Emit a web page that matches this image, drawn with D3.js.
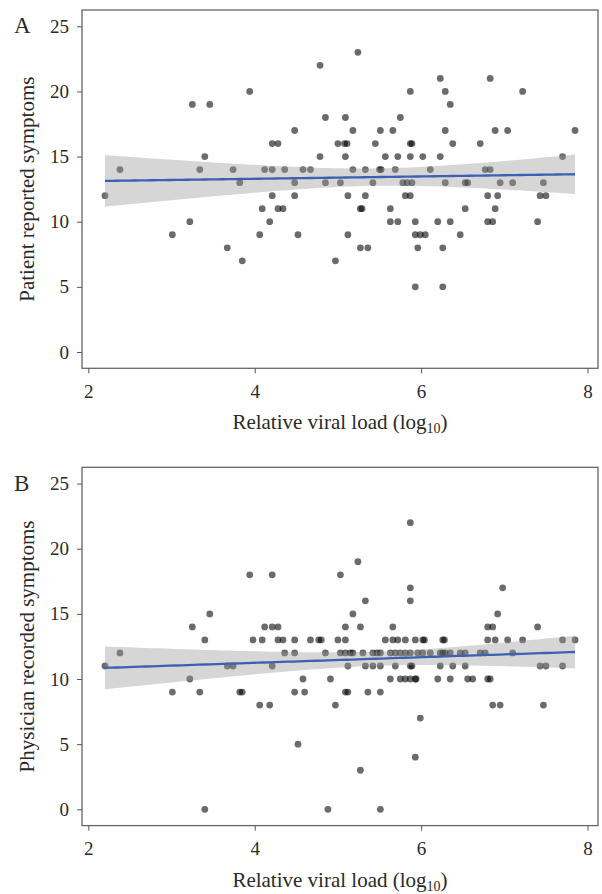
<!DOCTYPE html>
<html>
<head>
<meta charset="utf-8">
<script src="https://cdn.jsdelivr.net/npm/d3@7"></script>
<style>
body { margin: 0; background: #fff; }
svg text { font-family: "Liberation Serif", "DejaVu Serif", serif; fill: #2a2a2a; }
</style>
</head>
<body>
<div id="chart"></div>
<script>
// axis ticks
var xTicks = [2, 4, 6, 8];
var yTicks = [0, 5, 10, 15, 20, 25];

// panel A: [relative viral load, patient reported symptoms]
var patientPoints = [
  [5.24, 23],
  [4.785, 22],
  [6.23, 21], [6.83, 21],
  [3.94, 20], [5.87, 20], [6.29, 20], [7.22, 20],
  [3.25, 19], [3.46, 19], [6.35, 19],
  [4.85, 18], [5.09, 18], [5.75, 18],
  [4.48, 17], [5.18, 17], [5.51, 17], [5.66, 17], [6.29, 17], [6.89, 17], [7.04, 17], [7.85, 17],
  [4.21, 16], [4.28, 16], [5.00, 16], [5.08, 16], [5.11, 16], [5.45, 16], [5.87, 16], [5.89, 16], [6.38, 16], [6.71, 16],
  [3.40, 15], [4.785, 15], [5.09, 15], [5.57, 15], [5.72, 15], [5.87, 15], [6.02, 15], [6.23, 15], [7.70, 15],
  [2.38, 14], [3.34, 14], [3.74, 14], [4.12, 14], [4.21, 14], [4.36, 14], [4.58, 14], [4.67, 14], [5.18, 14],
  [5.33, 14], [5.50, 14], [5.52, 14], [5.69, 14], [6.11, 14], [6.77, 14], [6.83, 14],
  [3.82, 13], [4.48, 13], [4.85, 13], [5.03, 13], [5.42, 13], [5.78, 13], [5.83, 13], [5.89, 13], [6.29, 13],
  [6.53, 13], [6.56, 13], [6.95, 13], [7.10, 13], [7.47, 13],
  [2.20, 12], [4.21, 12], [4.48, 12], [5.12, 12], [5.33, 12], [5.81, 12], [5.87, 12], [6.80, 12], [6.92, 12], [7.43, 12], [7.50, 12],
  [4.09, 11], [4.28, 11], [4.34, 11], [5.27, 11], [5.29, 11], [5.63, 11], [6.53, 11], [6.89, 11],
  [3.22, 10], [4.18, 10], [5.63, 10], [5.72, 10], [5.93, 10], [6.20, 10], [6.35, 10], [6.80, 10], [6.86, 10], [7.40, 10],
  [3.01, 9], [4.06, 9], [4.52, 9], [5.12, 9], [5.93, 9], [5.99, 9], [6.05, 9], [6.47, 9],
  [3.67, 8], [5.27, 8], [5.36, 8], [5.96, 8], [6.26, 8],
  [3.85, 7], [4.97, 7],
  [5.93, 5], [6.26, 5]
];

// panel B: [relative viral load, physician recorded symptoms]
var physicianPoints = [
  [5.87, 22],
  [5.24, 19],
  [3.94, 18], [4.21, 18], [5.03, 18],
  [5.87, 17], [6.98, 17],
  [5.33, 16], [5.87, 16],
  [3.46, 15], [5.18, 15], [6.92, 15],
  [3.25, 14], [4.12, 14], [4.21, 14], [4.28, 14], [5.09, 14], [5.27, 14], [5.66, 14], [6.80, 14], [6.86, 14], [7.40, 14],
  [3.40, 13], [3.98, 13], [4.09, 13], [4.28, 13], [4.34, 13], [4.48, 13], [4.67, 13], [4.77, 13], [4.80, 13],
  [5.00, 13], [5.09, 13], [5.57, 13], [5.66, 13], [5.72, 13], [5.81, 13], [5.93, 13], [6.02, 13], [6.04, 13],
  [6.26, 13], [6.28, 13], [6.80, 13], [6.89, 13], [7.04, 13], [7.22, 13], [7.70, 13], [7.85, 13],
  [2.38, 12], [4.36, 12], [4.48, 12], [4.85, 12], [5.03, 12], [5.09, 12], [5.15, 12], [5.18, 12], [5.30, 12],
  [5.42, 12], [5.47, 12], [5.51, 12], [5.63, 12], [5.69, 12], [5.75, 12], [5.81, 12], [5.87, 12], [5.96, 12],
  [6.02, 12], [6.11, 12], [6.23, 12], [6.26, 12], [6.29, 12], [6.35, 12], [6.47, 12], [6.53, 12], [6.71, 12],
  [6.77, 12], [7.10, 12],
  [2.20, 11], [3.67, 11], [3.74, 11], [4.21, 11], [5.12, 11], [5.33, 11], [5.42, 11], [5.51, 11], [5.69, 11],
  [5.87, 11], [5.89, 11], [6.23, 11], [6.38, 11], [6.53, 11], [7.43, 11], [7.50, 11], [7.70, 11],
  [3.22, 10], [4.58, 10], [4.91, 10], [5.63, 10], [5.75, 10], [5.81, 10], [5.87, 10], [5.93, 10], [5.94, 10],
  [6.20, 10], [6.35, 10], [6.56, 10], [6.62, 10], [6.80, 10], [6.83, 10],
  [3.01, 9], [3.34, 9], [3.82, 9], [3.85, 9], [4.48, 9], [4.60, 9], [5.09, 9], [5.12, 9], [5.36, 9], [5.51, 9],
  [4.06, 8], [4.18, 8], [4.97, 8], [6.86, 8], [6.95, 8], [7.47, 8],
  [5.99, 7],
  [4.52, 5],
  [5.93, 4],
  [5.27, 3],
  [3.40, 0], [4.88, 0], [5.51, 0]
];

var panelLetters = ["A", "B"];
var yTitles = ["Patient reported symptoms", "Physician recorded symptoms"];

var svgWidth = 602;
var svgHeight = 894;

var svg = d3.select("#chart")
  .append("svg")
  .attr("width", svgWidth)
  .attr("height", svgHeight);

// ols fit with 95% confidence band, like geom_smooth(method = "lm")
function lmBand(points) {
  var n = points.length;
  var xbar = d3.mean(points, d => d[0]);
  var ybar = d3.mean(points, d => d[1]);
  var sxx = d3.sum(points, d => (d[0] - xbar) * (d[0] - xbar));
  var sxy = d3.sum(points, d => (d[0] - xbar) * (d[1] - ybar));
  var b = sxy / sxx;
  var a = ybar - b * xbar;
  var sse = d3.sum(points, d => Math.pow(d[1] - (a + b * d[0]), 2));
  var s = Math.sqrt(sse / (n - 2));
  var t = 1.98;
  var ext = d3.extent(points, d => d[0]);
  return d3.range(81).map(function(i) {
    var x = ext[0] + (ext[1] - ext[0]) * i / 80;
    var fit = a + b * x;
    var se = s * Math.sqrt(1 / n + (x - xbar) * (x - xbar) / sxx);
    return {x: x, fit: fit, lo: fit - t * se, hi: fit + t * se};
  });
}

function drawPanel(points, top, letter, yTitle) {
  var left = 82, right = 598;
  var bottom = top + 358.3;

  var x = d3.scaleLinear().domain([1.924, 8.126]).range([left, right]);
  var y = d3.scaleLinear().domain([-1.25, 26.25]).range([bottom, top]);

  var g = svg.append("g");

  // points
  g.append("g").selectAll("circle")
    .data(points)
    .enter()
    .append("circle")
    .attr("cx", d => x(d[0]))
    .attr("cy", d => y(d[1]))
    .attr("r", 3.4)
    .attr("fill", "#000")
    .attr("fill-opacity", 0.58);

  // smooth band + line
  var band = lmBand(points);
  g.append("path")
    .datum(band)
    .attr("fill", "#999999")
    .attr("fill-opacity", 0.4)
    .attr("d", d3.area().x(d => x(d.x)).y0(d => y(d.lo)).y1(d => y(d.hi)));
  g.append("path")
    .datum(band)
    .attr("fill", "none")
    .attr("stroke", "#3d5fb4")
    .attr("stroke-width", 2.3)
    .attr("d", d3.line().x(d => x(d.x)).y(d => y(d.fit)));

  // frame
  g.append("rect")
    .attr("x", left).attr("y", top)
    .attr("width", right - left).attr("height", bottom - top)
    .attr("fill", "none")
    .attr("stroke", "#666")
    .attr("stroke-width", 1.3);

  var xAxis = g.append("g")
    .attr("transform", `translate(0, ${bottom})`)
    .call(d3.axisBottom(x).tickValues(xTicks).tickFormat(d3.format("d")).tickSize(5).tickPadding(11));
  var yAxis = g.append("g")
    .attr("transform", `translate(${left}, 0)`)
    .call(d3.axisLeft(y).tickValues(yTicks).tickFormat(d3.format("d")).tickSize(5).tickPadding(8));

  [xAxis, yAxis].forEach(function(ax) {
    ax.select(".domain").remove();
    ax.selectAll(".tick line").attr("stroke", "#555");
    ax.selectAll(".tick text")
      .style("font-family", "Liberation Serif, serif")
      .style("font-size", "19px")
      .attr("fill", "#2a2a2a");
  });

  // x title with subscript
  var xt = g.append("text")
    .attr("x", (left + right) / 2)
    .attr("y", bottom + 61)
    .attr("text-anchor", "middle")
    .style("font-size", "21px");
  xt.append("tspan").text("Relative viral load (log");
  xt.append("tspan").attr("dy", 4).style("font-size", "14px").text("10");
  xt.append("tspan").attr("dy", -4).text(")");

  g.append("text")
    .attr("transform", `translate(34, ${(top + bottom) / 2}) rotate(-90)`)
    .attr("text-anchor", "middle")
    .style("font-size", "21px")
    .text(yTitle);

  g.append("text")
    .attr("x", 14)
    .attr("y", y(25) + 7)
    .style("font-size", "23px")
    .text(letter);
}

drawPanel(patientPoints, 10, panelLetters[0], yTitles[0]);
drawPanel(physicianPoints, 467.3, panelLetters[1], yTitles[1]);
</script>
</body>
</html>
